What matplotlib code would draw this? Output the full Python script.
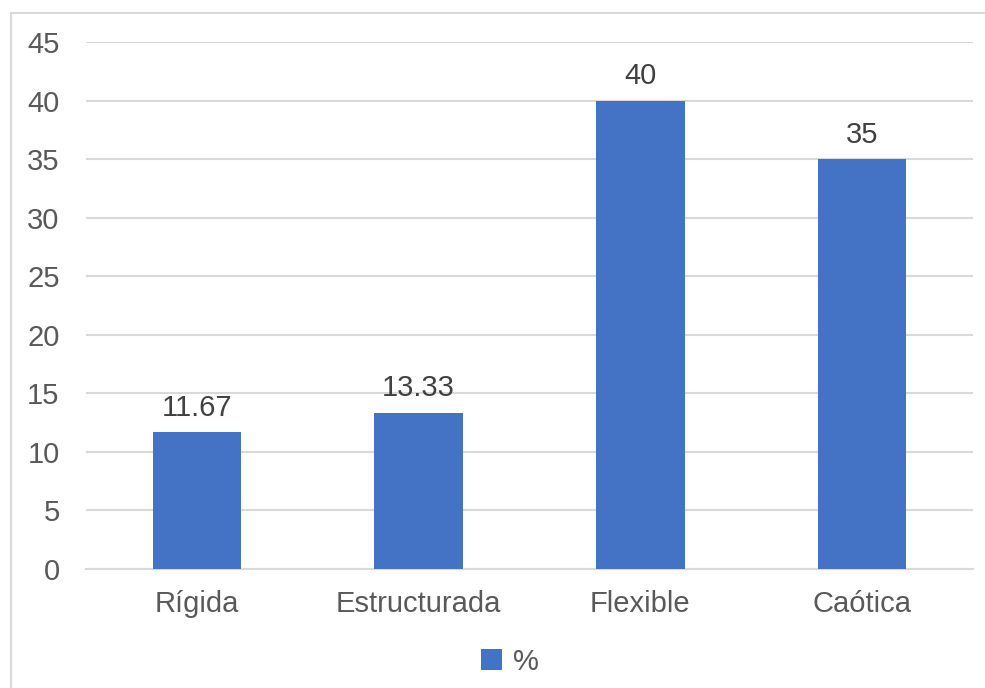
import matplotlib.pyplot as plt
from matplotlib.patches import Rectangle

# Datos
categorias = ["Rígida", "Estructurada", "Flexible", "Caótica"]
porcentajes = [11.67, 13.33, 40, 35]
etiquetas = ["11.67", "13.33", "40", "35"]

plt.rcParams['font.family'] = ['Liberation Sans', 'DejaVu Sans']

fig = plt.figure(figsize=(9.85, 6.88), dpi=100)
ax = fig.add_axes([0.0873, 0.173, 0.9005, 0.766])

# Marco del grafico
fig.patches.append(Rectangle((0.0112, -0.05), 1.1, 1.031, transform=fig.transFigure,
                             fill=False, edgecolor='#D9D9D9', linewidth=1.5))

x = range(len(categorias))
barras = ax.bar(x, porcentajes, width=0.40, color='#4472C4', zorder=3, label='%')

for b, t in zip(barras, etiquetas):
    ax.text(b.get_x() + b.get_width() / 2, b.get_height() + 0.9, t,
            ha='center', va='bottom', fontsize=21, color='#404040')

ax.set_xlim(-0.5, len(categorias) - 0.5)
ax.set_ylim(0, 45)
ax.set_yticks(range(0, 46, 5))
ax.set_xticks(list(x))
ax.set_xticklabels(categorias)
ax.tick_params(axis='both', length=0, labelsize=21, labelcolor='#595959')
ax.tick_params(axis='y', pad=19)
ax.tick_params(axis='x', pad=15)
ax.yaxis.grid(True, color='#D9D9D9', linewidth=1.5, zorder=0)
for s in ['top', 'right', 'left']:
    ax.spines[s].set_visible(False)
ax.spines['bottom'].set_color('#D9D9D9')
ax.spines['bottom'].set_linewidth(1.5)

leg = fig.legend(loc='center', bbox_to_anchor=(0.518, 0.038), frameon=False,
                 fontsize=21, handlelength=0.7, handleheight=0.7, handletextpad=0.4)
for t in leg.get_texts():
    t.set_color('#595959')

plt.savefig("out.png", dpi=100)
